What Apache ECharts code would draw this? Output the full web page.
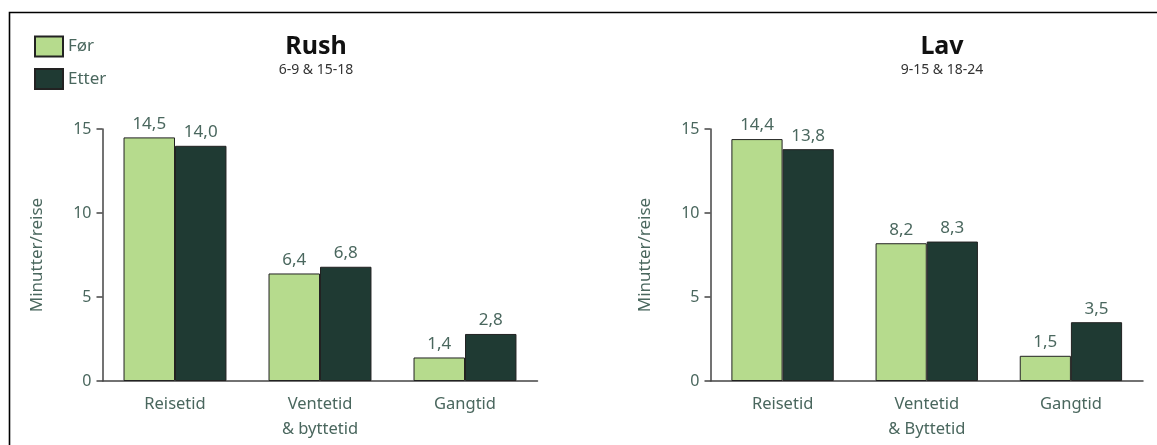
<!DOCTYPE html>
<html>
<head>
<meta charset="utf-8">
<script src="https://cdn.jsdelivr.net/npm/echarts@6/dist/echarts.min.js"></script>
<style>
  html, body { margin: 0; padding: 0; background: #fff; }
  #chart { width: 1157px; height: 445px; }
</style>
</head>
<body>
<div id="chart"></div>
<script>
// Travel-time components, minutes per trip
const categoriesRush = ['Reisetid', 'Ventetid\n& byttetid', 'Gangtid'];
const categoriesLav = ['Reisetid', 'Ventetid\n& Byttetid', 'Gangtid'];
const rushFor = [14.5, 6.4, 1.4];
const rushEtter = [14.0, 6.8, 2.8];
const lavFor = [14.4, 8.2, 1.5];
const lavEtter = [13.8, 8.3, 3.5];
const seriesNames = ['Før', 'Etter'];
const panelTitles = ['Rush', 'Lav'];
const panelSubtitles = ['6-9 & 15-18', '9-15 & 18-24'];
const yTicks = [0, 5, 10, 15];
const yAxisName = 'Minutter/reise';

const FONT = '"Noto Sans", "Open Sans", sans-serif';
const TEXT = '#4a675e';
const LIGHT = '#b6db8d';
const DARK = '#1f3a33';
const EDGE = '#222';

const chart = echarts.init(document.getElementById('chart'), null, { renderer: 'canvas' });

const grids = [
  { left: 102.5, top: 129, width: 435, height: 252 },
  { left: 710.5, top: 129, width: 432.5, height: 252 }
];

function xAxis(idx, cats) {
  return {
    type: 'category', gridIndex: idx, data: cats,
    axisLine: { lineStyle: { color: '#444', width: 1.5 } },
    axisTick: { show: false },
    axisLabel: { color: TEXT, fontFamily: FONT, fontSize: 16.5, margin: 11, lineHeight: 25 }
  };
}
function yAxis(idx) {
  return {
    type: 'value', gridIndex: idx,
    min: yTicks[0], max: yTicks[yTicks.length - 1], interval: yTicks[1] - yTicks[0],
    name: yAxisName, nameLocation: 'middle', nameGap: 57, nameRotate: 90,
    nameTextStyle: { color: TEXT, fontFamily: FONT, fontSize: 17 },
    axisLine: { show: true, lineStyle: { color: '#444', width: 1.5 } },
    axisTick: { show: true, inside: false, length: 6, lineStyle: { color: '#444', width: 1.5 } },
    splitLine: { show: false },
    axisLabel: { color: TEXT, fontFamily: FONT, fontSize: 16, margin: 11 }
  };
}
function barSeries(name, data, color, idx) {
  return {
    name, type: 'bar', data, xAxisIndex: idx, yAxisIndex: idx,
    barGap: '0%', barCategoryGap: '29%',
    itemStyle: { color, borderColor: EDGE, borderWidth: 1 },
    label: {
      show: true, position: 'top', distance: 5,
      color: TEXT, fontFamily: FONT, fontSize: 17,
      formatter: p => p.value.toFixed(1).replace('.', ',')
    },
    emphasis: { disabled: true }
  };
}

function panelTitle(i, x) {
  return {
    text: panelTitles[i], subtext: panelSubtitles[i], left: x, top: 29, textAlign: 'center',
    textStyle: { fontFamily: FONT, fontSize: 25, fontWeight: 'bold', color: '#111' },
    subtextStyle: { fontFamily: FONT, fontSize: 14, color: '#333' }, itemGap: 4
  };
}

chart.setOption({
  animation: false,
  backgroundColor: '#fff',
  title: [panelTitle(0, 311), panelTitle(1, 937)],
  legend: {
    data: seriesNames, orient: 'vertical', left: 34, top: 35.5, padding: 0,
    itemWidth: 28, itemHeight: 20, itemGap: 10.5, icon: 'rect',
    textStyle: { color: TEXT, fontFamily: FONT, fontSize: 17 },
    selectedMode: false
  },
  grid: grids,
  xAxis: [xAxis(0, categoriesRush), xAxis(1, categoriesLav)],
  yAxis: [yAxis(0), yAxis(1)],
  series: [
    barSeries(seriesNames[0], rushFor, LIGHT, 0),
    barSeries(seriesNames[1], rushEtter, DARK, 0),
    barSeries(seriesNames[0], lavFor, LIGHT, 1),
    barSeries(seriesNames[1], lavEtter, DARK, 1)
  ],
  graphic: [
    // outer frame, open to the right and bottom
    { type: 'polyline', silent: true,
      shape: { points: [[9.5, 460], [9.5, 12.5], [1170, 12.5]] },
      style: { stroke: '#000', lineWidth: 1.6, fill: null } }
  ]
});
</script>
</body>
</html>
